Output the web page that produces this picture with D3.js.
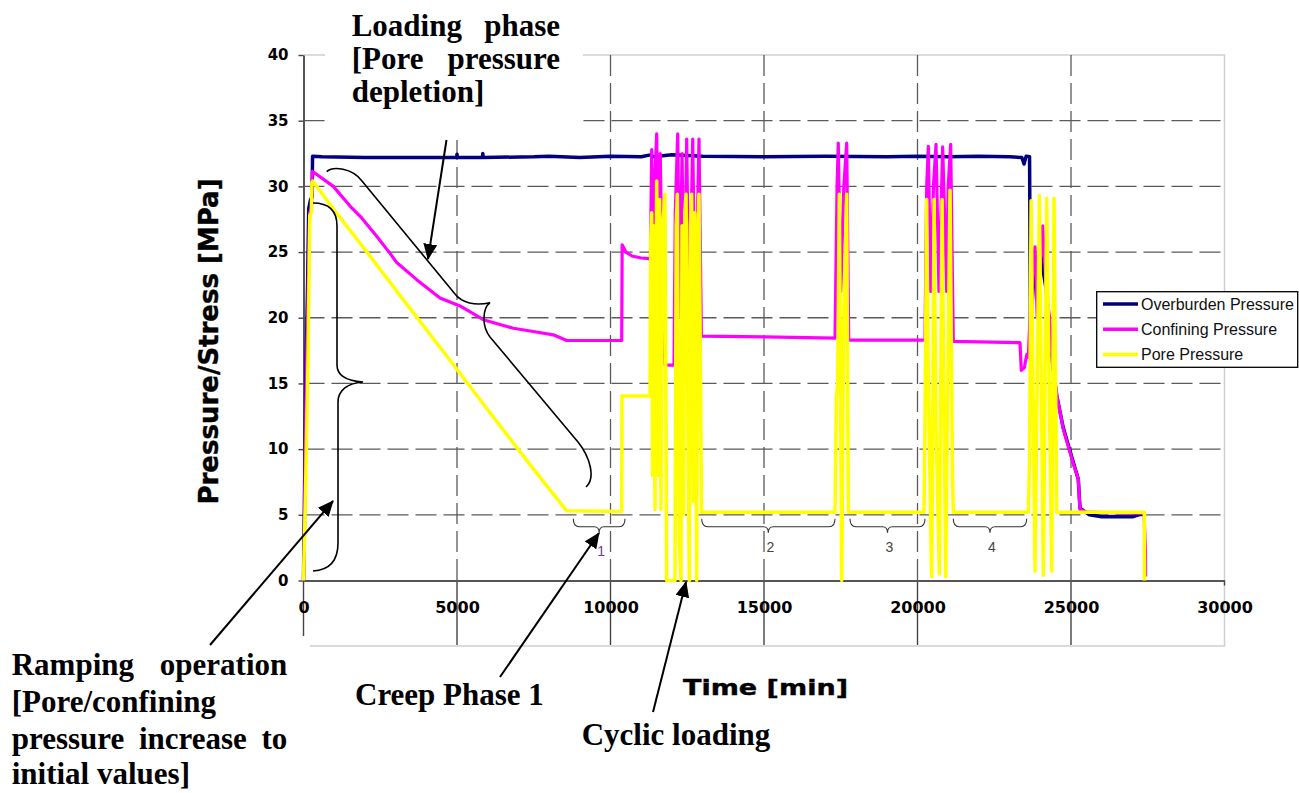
<!DOCTYPE html>
<html><head><meta charset="utf-8">
<script src="https://cdn.jsdelivr.net/npm/d3@7"></script>
<style>body{margin:0;background:#fff}svg{display:block}</style>
</head><body>
<svg id="c" width="1299" height="793"></svg>
<script>
// ---------------- DATA ----------------
const xTicks = [0, 5000, 10000, 15000, 20000, 25000, 30000];
const yTicks = [0, 5, 10, 15, 20, 25, 30, 35, 40];
const seriesNames = ["Overburden Pressure", "Confining Pressure", "Pore Pressure"];
const xTitle = "Time [min]";
const yTitle = "Pressure/Stress [MPa]";

// [time (min), pressure (MPa)]
const overburden = [
  [0,0],[40,8],[80,16],[130,22],[170,28.3],[230,29.0],[280,29.2],[295,32.3],[600,32.25],[2000,32.2],
  [4000,32.2],[4990,32.2],[5000,32.45],[5010,32.2],[5830,32.2],[5840,32.5],[5850,32.2],[7500,32.25],
  [8000,32.3],[9000,32.2],[10000,32.3],[11000,32.25],[11300,32.4],[11400,32.25],[12000,32.4],
  [13000,32.3],[15000,32.25],[17000,32.3],[19000,32.25],[20000,32.3],[21000,32.25],[22000,32.3],
  [23000,32.25],[23400,32.2],[23470,31.7],[23540,32.3],[23650,32.25],[23680,19.3],[23760,22],
  [23827,24.2],[24000,25],[24200,22],[24400,16.5],[24534,14.1],[24750,11.6],[25075,9.0],
  [25238,7.7],[25293,5.5],[25600,5.0],[26000,4.85],[27000,4.85],[27200,5.0],[27355,5.05]
];
const confining = [
  [0,0],[30,3],[60,10],[100,16],[150,22],[200,28],[260,28.3],[287,31.15],[971,30.0],[1515,28.5],
  [1895,27.6],[2384,26.2],[2818,24.9],[3036,24.2],[3687,22.9],[4446,21.5],[5098,20.9],[5857,19.85],
  [6834,19.2],[7485,18.95],[8136,18.7],[8573,18.27],[10365,18.27],[10380,25.55],[10500,25.0],
  [10700,24.7],[11000,24.55],[11254,24.5],[11300,24.4],[11342,32.8],[11400,22],[11450,31],
  [11505,34.0],[11560,24],[11620,32.5],[11700,21],[11776,16.4],[12069,16.4],[12110,28],
  [12189,34.0],[12260,20],[12330,32.5],[12400,20],[12482,33.6],[12560,19],[12678,33.6],
  [12760,19],[12883,33.6],[12960,18.6],[13004,18.6],[15000,18.55],[17313,18.45],[17380,30],
  [17420,33.3],[17500,22],[17600,30],[17694,33.3],[17760,18.3],[20244,18.3],[20300,30],
  [20353,33.05],[20430,22],[20520,30],[20603,33.2],[20700,22],[20820,33.0],[20950,22],
  [21000,30],[21081,33.2],[21166,18.2],[23339,18.1],[23380,16.0],[23480,16.2],[23560,17.2],
  [23610,17],[23700,22],[23827,25.4],[23900,20],[24078,27],[24200,22],[24300,20],[24400,16.5],
  [24534,14.1],[24750,11.5],[25075,8.9],[25238,7.7],[25293,5.4],[25500,5.2],[27380,5.1],
  [27427,2.1],[27430,0.3]
];
const pore = [
  [0,0],[60,6],[150,17],[205,27.8],[255,28],[275,30.3],[300,30.4],[1000,28.2],[2000,25.2],
  [3143,21.7],[4990,16.1],[6000,13.0],[7486,8.5],[8573,5.3],[10365,5.25],[10375,14.05],
  [11287,14.05],[11310,26],[11342,28],[11370,8],[11400,27],[11450,5.4],[11504,30.4],[11560,8],
  [11600,29],[11645,5.4],[11700,27],[11775,29.4],[11829,0],[12101,0],[12140,27],[12177,29.4],
  [12240,3],[12296,0],[12330,27],[12380,5],[12420,28],[12459,29.4],[12567,0],[12600,27],
  [12643,29.4],[12700,6],[12740,28],[12806,0],[12850,27],[12882,29.4],[12969,5.2],[13004,5.2],
  [17313,5.2],[17360,14],[17400,15],[17454,29.4],[17530,0],[17600,20],[17693,29.4],[17747,5.2],
  [20212,5.2],[20244,12],[20298,29.0],[20353,15],[20462,0.3],[20540,29.0],[20600,12],
  [20711,0.5],[20800,29.0],[20917,0.3],[21059,29.7],[21140,8],[21167,5.2],[23610,5.2],
  [23650,9],[23700,28.9],[23828,0.7],[23969,29.3],[24099,0.4],[24208,29.1],[24371,0.7],
  [24447,29.1],[24534,5.2],[27389,5.2],[27395,0]
];
// creep-phase braces (minutes)
const creepLabels = ["1", "2", "3", "4"];
const creepStart = [8788, 12971, 17801, 21166];
const creepEnd = [10472, 17313, 20244, 23557];

// ---------------- CHART ----------------
const svg = d3.select("#c");
const x = d3.scaleLinear().domain([0, 30000]).range([303.5, 1224.5]);
const y = d3.scaleLinear().domain([0, 40]).range([580.5, 55]);
const colors = ["#000080", "#FF00FF", "#FFFF00"];
const widths = [3.5, 3.2, 3.5];

// frame (light grey)
svg.append("path").attr("d", `M${x(0)},${y(40)}H${x(30000)}V646H${x(0)}`)
  .attr("fill", "none").attr("stroke", "#cfcfcf").attr("stroke-width", 1.5);

// grid
svg.append("g").selectAll("line").data(yTicks.filter(v => v > 0 && v < 40)).join("line")
  .attr("x1", x(0)).attr("x2", x(30000)).attr("y1", d => y(d)).attr("y2", d => y(d))
  .attr("stroke", "#5a5a5a").attr("stroke-width", 1.3).attr("stroke-dasharray", "21,7");
svg.append("g").selectAll("line").data(xTicks.filter(v => v > 0 && v < 30000)).join("line")
  .attr("x1", d => x(d)).attr("x2", d => x(d)).attr("y1", y(40)).attr("y2", y(0))
  .attr("stroke", "#5a5a5a").attr("stroke-width", 1.3).attr("stroke-dasharray", "21,7");

// long x tick marks below axis
svg.append("g").selectAll("line").data(xTicks).join("line")
  .attr("x1", d => x(d)).attr("x2", d => x(d)).attr("y1", y(0))
  .attr("y2", d => d === 30000 ? y(0) + 5 : 645)
  .attr("stroke", "#444").attr("stroke-width", 1.4);

// axes
const yAxis = svg.append("g").attr("transform", `translate(${x(0)},0)`)
  .call(d3.axisLeft(y).tickValues(yTicks).tickSize(5).tickPadding(10).tickSizeOuter(0));
const xAxis = svg.append("g").attr("transform", `translate(0,${y(0)})`)
  .call(d3.axisBottom(x).tickValues(xTicks).tickFormat(d3.format("d"))
    .tickSize(0).tickPadding(21).tickSizeOuter(0));
[yAxis, xAxis].forEach(a => {
  a.select(".domain").attr("stroke", "#555").attr("stroke-width", 2);
  a.selectAll(".tick line").attr("stroke", "#444").attr("stroke-width", 1.4);
  a.selectAll("text").attr("font-family", "DejaVu Sans").attr("font-weight", "bold").attr("fill", "#000");
});
yAxis.selectAll("text").attr("font-size", 15);
xAxis.selectAll("text").attr("font-size", 16);

// series
const line = d3.line().x(d => x(d[0])).y(d => y(d[1]));
[overburden, confining, pore].forEach((s, i) => {
  svg.append("path").datum(s).attr("d", line).attr("fill", "none")
    .attr("stroke", colors[i]).attr("stroke-width", widths[i])
    .attr("stroke-linejoin", "round");
});

// axis titles
svg.append("text").attr("x", 683).attr("y", 695).text(xTitle)
  .attr("font-family", "DejaVu Sans").attr("font-weight", "bold").attr("font-size", 21)
  .attr("textLength", 165).attr("lengthAdjust", "spacingAndGlyphs")
  .attr("stroke", "#000").attr("stroke-width", 0.4);
svg.append("text").attr("transform", "translate(218,341.5) rotate(-90)")
  .attr("text-anchor", "middle").text(yTitle)
  .attr("font-family", "DejaVu Sans").attr("font-weight", "bold").attr("font-size", 26)
  .attr("stroke", "#000").attr("stroke-width", 0.4);

// creep braces
const bg = svg.append("g");
creepLabels.forEach((lab, i) => {
  const x1 = x(creepStart[i]), x2 = x(creepEnd[i]), m = (x1 + x2) / 2, t = y(5);
  bg.append("path")
    .attr("d", `M${x1},${t+4} Q${x1},${t+12} ${x1+6},${t+12} L${m-5},${t+12} Q${m},${t+12} ${m},${t+18} Q${m},${t+12} ${m+5},${t+12} L${x2-6},${t+12} Q${x2},${t+12} ${x2},${t+4}`)
    .attr("fill", "none").attr("stroke", "#333").attr("stroke-width", 1.1);
  bg.append("text").attr("x", m + 2).attr("y", i === 0 ? t + 41 : t + 37).text(lab)
    .attr("text-anchor", "middle").attr("font-family", "Liberation Sans").attr("font-size", 14)
    .attr("fill", i === 0 ? "#6a3d9a" : "#444");
});

// white text boxes
svg.append("rect").attr("x", 325).attr("y", 0).attr("width", 258).attr("height", 140).attr("fill", "#fff");
svg.append("rect").attr("x", 0).attr("y", 636).attr("width", 310).attr("height", 157).attr("fill", "#fff");

// annotation texts
const serif = g => g.attr("font-family", "Liberation Serif").attr("font-weight", "bold").attr("font-size", 31).attr("fill", "#000");
function textLine(str, x0, yb, width) {
  const words = str.split(" ");
  if (!width || words.length < 2) { svg.append("text").attr("x", x0).attr("y", yb).text(str).call(serif); return; }
  const nodes = words.map(w => svg.append("text").attr("y", yb).text(w).call(serif));
  const ws = nodes.map(n => n.node().getComputedTextLength());
  const gap = (width - d3.sum(ws)) / (words.length - 1);
  let cx = x0;
  nodes.forEach((n, k) => { n.attr("x", cx); cx += ws[k] + gap; });
}
textLine("Loading phase", 351.7, 36, 208.3);
textLine("[Pore pressure", 351.7, 69, 208.3);
textLine("depletion]", 351.7, 102);
textLine("Ramping operation", 11.7, 675, 275.6);
textLine("[Pore/confining", 11.7, 712);
textLine("pressure increase to", 11.7, 749, 275.6);
textLine("initial values]", 11.7, 784);
textLine("Creep Phase 1", 355, 705);
textLine("Cyclic loading", 581.7, 745);

// braces for phases
svg.append("path")
  .attr("d", "M326.7,171.7 C333,166 352,168 362,181 L455,294 C462,303 475,306 490,302.7 C483,308 481,325 490,337 L578,442 C590,457 596,478 586,487")
  .attr("fill", "none").attr("stroke", "#000").attr("stroke-width", 1.6);
svg.append("path")
  .attr("d", "M313,203 C330,203 337,212 337,226 L337,365 C337,376 348,381 363,382 C348,383 338,390 338,402 L338,543 C338,561 330,570 313,571")
  .attr("fill", "none").attr("stroke", "#000").attr("stroke-width", 1.6);

// arrows
svg.append("defs").append("marker").attr("id", "ah").attr("markerUnits", "userSpaceOnUse")
  .attr("markerWidth", 16).attr("markerHeight", 14).attr("refX", 15).attr("refY", 7)
  .attr("orient", "auto").append("path").attr("d", "M0,0 L16,7 L0,14 Z").attr("fill", "#000");
[[446.5,140,428,259],[210,645,333,501],[500,677,599,533],[653,712,686,582]].forEach(a => {
  svg.append("line").attr("x1", a[0]).attr("y1", a[1]).attr("x2", a[2]).attr("y2", a[3])
    .attr("stroke", "#000").attr("stroke-width", 2).attr("marker-end", "url(#ah)");
});

// legend
const lg = svg.append("g");
lg.append("rect").attr("x", 1096.7).attr("y", 291.7).attr("width", 201).attr("height", 75.6)
  .attr("fill", "#fff").attr("stroke", "#000").attr("stroke-width", 1.3);
seriesNames.forEach((n, i) => {
  const yy = 304 + i * 25.2;
  lg.append("line").attr("x1", 1103).attr("x2", 1138).attr("y1", yy).attr("y2", yy)
    .attr("stroke", colors[i]).attr("stroke-width", 3.5);
  lg.append("text").attr("x", 1141).attr("y", yy + 5.6).text(n)
    .attr("font-family", "Liberation Sans").attr("font-size", 16).attr("fill", "#111");
});
</script>
</body></html>
